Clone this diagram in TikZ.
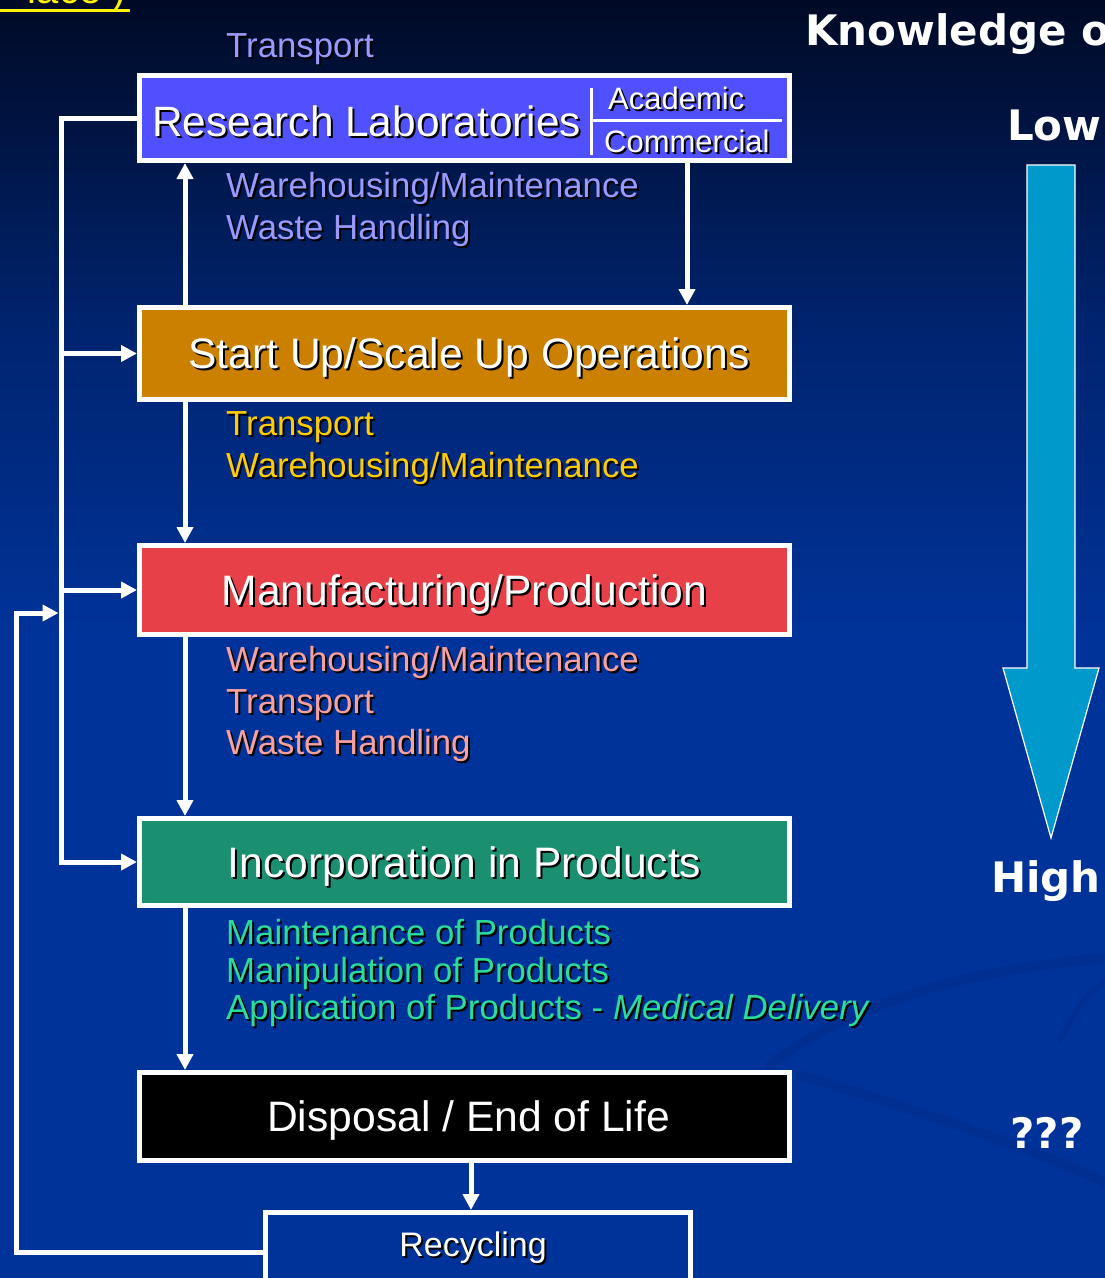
\documentclass[tikz,border=0pt]{standalone}
\usepackage{fontspec}
\setmainfont{Liberation Sans}
\newfontfamily\djv{DejaVu Sans}
\usetikzlibrary{arrows.meta}
\definecolor{bgB}{RGB}{0,51,153}
\definecolor{bgM}{RGB}{0,36,112}
\definecolor{bgT}{RGB}{0,10,38}
\definecolor{rlfill}{RGB}{80,80,255}
\definecolor{sufill}{RGB}{204,128,0}
\definecolor{mpfill}{RGB}{232,64,72}
\definecolor{incfill}{RGB}{26,144,112}
\definecolor{lavlbl}{RGB}{153,153,255}
\definecolor{yellbl}{RGB}{255,204,0}
\definecolor{salmlbl}{RGB}{250,160,160}
\definecolor{greenlbl}{RGB}{44,220,154}
\definecolor{bigarrow}{RGB}{0,153,204}
\definecolor{swirlc}{RGB}{0,45,138}
\pgfdeclareverticalshading{bgshade}{100bp}{color(0bp)=(bgB); color(25bp)=(bgB); color(50bp)=(bgB); color(62bp)=(bgM); color(75bp)=(bgT); color(100bp)=(bgT)}
\newcommand\shd[1]{\makebox[0pt][l]{\kern2pt\raisebox{-2pt}{\color{black}#1}}#1}
\tikzset{
  box/.style={draw=white, line width=5pt, minimum width=650pt, inner sep=0pt,
    text=white, font=\fontsize{42.6}{48}\selectfont, text height=30pt, text depth=0pt},
  wline/.style={draw=white, line width=5pt},
  tipped/.style={wline, -{Triangle[length=16pt,width=16pt]}},
  lbl/.style={anchor=base west, inner sep=0pt, font=\fontsize{34.8}{40}\selectfont},
  side/.style={anchor=base west, inner sep=0pt, text=white, font=\djv\bfseries\fontsize{42}{48}\selectfont},
  swirl/.style={draw=swirlc, line width=10pt, opacity=0.5, line cap=round},
}
\begin{document}
\begin{tikzpicture}[x=1pt,y=-1pt]
\useasboundingbox (0,0) rectangle (1105,1278);
\clip (0,0) rectangle (1105,1278);
\fill[shading=bgshade] (0,0) rectangle (1105,1278);
% faint background swirls
\draw[swirl] (770,1065) .. controls (860,995) and (1000,965) .. (1110,958);
\draw[swirl] (800,1075) .. controls (900,1105) and (1040,1150) .. (1110,1185);
\draw[swirl, line width=6pt] (1060,1040) .. controls (1080,1000) and (1095,985) .. (1110,980);

% top-left cut-off yellow text
\node[anchor=base east, inner sep=0pt, text=yellow, font=\fontsize{40}{48}\selectfont] (topy) at (126,3) {lace )};
\draw[yellow, line width=3pt] (0,10.5) -- (130,10.5);

% boxes
\node[box, fill=rlfill, minimum height=85pt] (rl) at (464.5,118) {};
\node[box, fill=sufill, minimum height=92pt] (su) at (464.5,353.5) {\hspace*{9pt}\shd{Start Up/Scale Up Operations}};
\node[box, fill=mpfill, minimum height=89pt] (mp) at (464.5,590) {\shd{Manufacturing/Production}};
\node[box, fill=incfill, minimum height=87pt] (inc) at (464.5,862) {\shd{Incorporation in Products}};
\node[box, fill=black, minimum height=88pt] (disp) at (464.5,1116.5) {\hspace*{8pt}Disposal / End of Life};
\node[box, fill=bgB, minimum width=425pt, minimum height=79pt, text height=30pt, text depth=21pt,
      font=\fontsize{34}{40}\selectfont] (rec) at (478,1252) {\shd{Recycling}\hspace*{10pt}};

% research lab inner texts and dividers
\node[lbl, text=white, font=\fontsize{42.4}{48}\selectfont] (rlt) at (152,136) {\shd{Research Laboratories}};
\draw[white, line width=3pt] (591,88) -- (591,155);
\draw[white, line width=3pt] (591,120) -- (782,120);
\node[lbl, text=white, font=\fontsize{31}{36}\selectfont] (acad) at (608,109) {\shd{Academic}};
\node[lbl, text=white, font=\fontsize{31}{36}\selectfont] (comm) at (604,152) {\shd{Commercial}};

% labels
\node[lbl, text=lavlbl] (l1) at (226,57) {\shd{Transport}};
\node[lbl, text=lavlbl] (l2) at (226,197) {\shd{Warehousing/Maintenance}};
\node[lbl, text=lavlbl] (l3) at (226,239) {\shd{Waste Handling}};
\node[lbl, text=yellbl] (l4) at (226,435) {\shd{Transport}};
\node[lbl, text=yellbl] (l5) at (226,477) {\shd{Warehousing/Maintenance}};
\node[lbl, text=salmlbl] (l6) at (226,671) {\shd{Warehousing/Maintenance}};
\node[lbl, text=salmlbl] (l7) at (226,713) {\shd{Transport}};
\node[lbl, text=salmlbl] (l8) at (226,754) {\shd{Waste Handling}};
\node[lbl, text=greenlbl] (l9) at (226,944) {\shd{Maintenance of Products}};
\node[lbl, text=greenlbl] (l10) at (226,982) {\shd{Manipulation of Products}};
\node[lbl, text=greenlbl] (l11) at (226,1019) {\shd{Application of Products - \itshape Medical Delivery}};

% connector coordinates
\coordinate (busB) at (61,862);
\coordinate (lx) at (185,0);
\coordinate (rx) at (687,0);
\coordinate (dx) at (471,0);
\coordinate (rcorner) at (16,613);
\coordinate (rin) at (58.5,613);

% left bus
\draw[tipped, line join=miter] (rl.west) -| (busB) -- (inc.west);
\draw[tipped] (su.west -| busB) -- (su.west);
\draw[tipped] (mp.west -| busB) -- (mp.west);
% recycling return
\draw[tipped, line join=miter] (rec.west) -| (rcorner) -- (rin);
% vertical arrows
\draw[tipped] (su.north -| lx) -- (rl.south -| lx);
\draw[tipped] (rl.south -| rx) -- (su.north -| rx);
\draw[tipped] (su.south -| lx) -- (mp.north -| lx);
\draw[tipped] (mp.south -| lx) -- (inc.north -| lx);
\draw[tipped] (inc.south -| lx) -- (disp.north -| lx);
\draw[tipped] (disp.south -| dx) -- (rec.north -| dx);

% right side
\node[side] (know) at (805,45) {Knowledge o};
\node[side] (low) at (1007,140) {Low};
\fill[bigarrow, draw=white, line width=1.2pt, line join=miter]
  (1027,165) -- (1075,165) -- (1075,668) -- (1099,668) -- (1051,838) -- (1003,668) -- (1027,668) -- cycle;
\node[side] (high) at (991,892) {High};
\node[side, anchor=base] (qqq) at (1047,1148) {???};
\end{tikzpicture}
\end{document}
